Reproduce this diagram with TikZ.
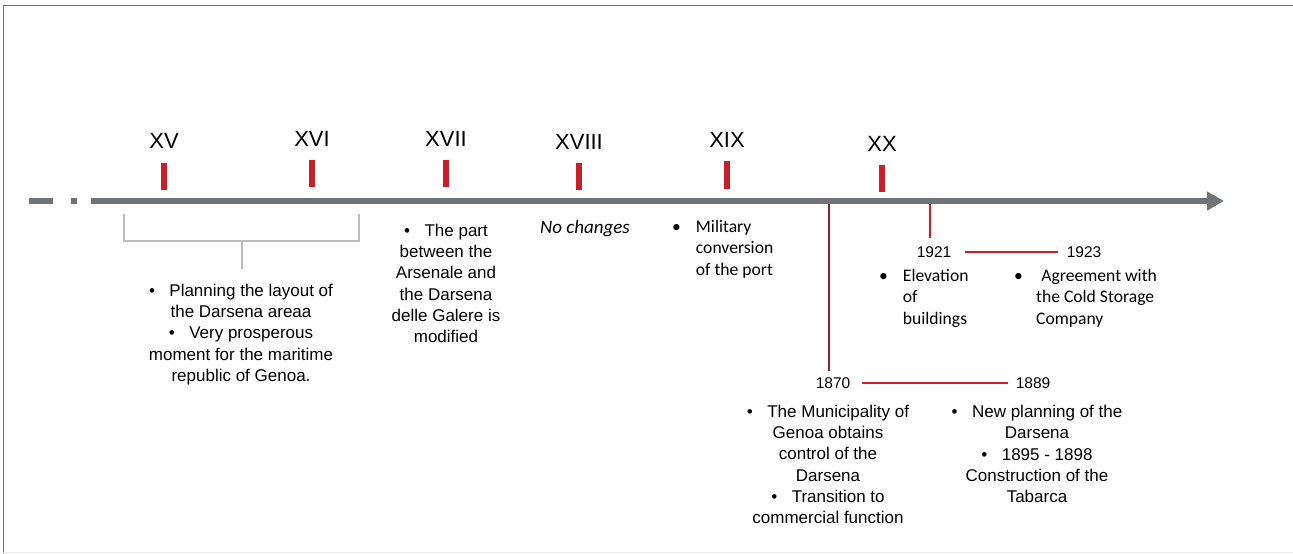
\documentclass[tikz,border=0pt]{standalone}
\usepackage{fontspec}
\setmainfont{Liberation Sans}
\newfontfamily\carlitofont{Carlito}
\usetikzlibrary{arrows.meta}
\definecolor{axisgray}{RGB}{112,116,120}
\definecolor{tickred}{RGB}{200,32,42}
\definecolor{darkred}{RGB}{150,30,50}
\definecolor{brack}{RGB}{190,190,190}
\definecolor{framegray}{RGB}{110,110,110}
\newcommand{\bul}{\textbullet\hspace{0.85em}}
\tikzset{
  century/.style={font=\fontsize{22}{26}\selectfont, inner sep=0pt},
  yearlbl/.style={font=\fontsize{15.5}{18}\selectfont, inner sep=0pt},
  body/.style={font=\fontsize{17}{21.3}\selectfont, align=center, inner sep=0pt},
  calbody/.style={font=\carlitofont\fontsize{17.6}{21.3}\selectfont, inner sep=0pt},
  tick/.style={tickred, line width=6pt},
  axis/.style={axisgray, line width=6pt},
  redline/.style={tickred, line width=1.8pt},
  stem/.style={darkred, line width=1.8pt},
}
\begin{document}
\begin{tikzpicture}[x=1pt,y=-1pt]
\useasboundingbox (0,0) rectangle (1293,554);
\fill[white] (0,0) rectangle (1293,554);
% frame
\draw[framegray, line width=1pt] (3,554) -- (3,5) -- (1293,5);
\draw[black!8, line width=0.8pt] (3,552) -- (1293,552);

% axis
\coordinate (d1a) at (29,201); \coordinate (d1b) at (53,201);
\coordinate (d2a) at (71,201); \coordinate (d2b) at (77,201);
\coordinate (ax0) at (91,201); \coordinate (ax1) at (1224,201);
\draw[axis] (d1a) -- (d1b);
\draw[axis] (d2a) -- (d2b);
\draw[axis, -{Triangle[length=17pt,width=18pt]}] (ax0) -- (ax1);

% centuries
\node[century] (xv)    at (164,141) {XV};
\node[century] (xvi)   at (312,139) {XVI};
\node[century] (xvii)  at (446,139) {XVII};
\node[century] (xviii) at (579,142) {XVIII};
\node[century] (xix)   at (727,140) {XIX};
\node[century] (xx)    at (882,144) {XX};
\draw[tick] (164,163) -- (164,190);
\draw[tick] (312,160) -- (312,187);
\draw[tick] (446,160) -- (446,187);
\draw[tick] (579,163) -- (579,190);
\draw[tick] (727,161) -- (727,189);
\draw[tick] (882,165) -- (882,192);

% bracket XV-XVI
\coordinate (bl) at (124,214); \coordinate (br) at (359,214);
\coordinate (bm) at (242,241); \coordinate (bs) at (242,269);
\draw[brack, line width=1.2pt] (bl) |- (bm) -| (br);
\draw[brack, line width=1.2pt] (bm) -- (bs);
\node[body] (t1) at (241,334.5) {\bul Planning the layout of\\the Darsena areaa\\\bul Very prosperous\\moment for the maritime\\republic of Genoa.};

% XVII
\node[body] (t2) at (446,283.5) {\bul The part\\between the\\Arsenale and\\the Darsena\\delle Galere is\\modified};

% XVIII
\node[calbody, font=\carlitofont\itshape\fontsize{19}{21}\selectfont] (t3) at (585,229) {No changes};

% XIX
\node[calbody, anchor=north west, align=left] (t4) at (672,220) {\textbullet\hspace{0.85em}Military\\\hphantom{\textbullet\hspace{0.85em}}conversion\\\hphantom{\textbullet\hspace{0.85em}}of the port};

% 1870 / 1889
\coordinate (s0) at (829,204);
\node[yearlbl] (y1870) at (833,383) {1870};
\node[yearlbl] (y1889) at (1033,383) {1889};
\coordinate (s1) at (829,371);
\draw[stem] (s0) -- (s1);
\draw[redline] ([xshift=12pt]y1870.east) -- ([xshift=-8pt]y1889.west);
\node[body] (t5) at (828,464.5) {\bul The Municipality of\\Genoa obtains\\control of the\\Darsena\\\bul Transition to\\commercial function};
\node[body] (t6) at (1037,454) {\bul New planning of the\\Darsena\\\bul 1895 - 1898\\Construction of the\\Tabarca};

% 1921 / 1923
\coordinate (u0) at (930,204);
\coordinate (u1) at (930,238);
\draw[redline] (u0) -- (u1);
\node[yearlbl] (y1921) at (934,252) {1921};
\node[yearlbl] (y1923) at (1084,252) {1923};
\draw[redline] ([xshift=14pt]y1921.east) -- ([xshift=-9pt]y1923.west);
\node[calbody, anchor=north west, align=left] (t7) at (879,269) {\textbullet\hspace{0.85em}Elevation\\\hphantom{\textbullet\hspace{0.85em}}of\\\hphantom{\textbullet\hspace{0.85em}}buildings};
\node[calbody, anchor=north west, align=left] (t8) at (1014,269) {\textbullet\hspace{1.05em}Agreement with\\\hphantom{\textbullet\hspace{0.75em}}the Cold Storage\\\hphantom{\textbullet\hspace{0.75em}}Company};
\end{tikzpicture}
\end{document}
